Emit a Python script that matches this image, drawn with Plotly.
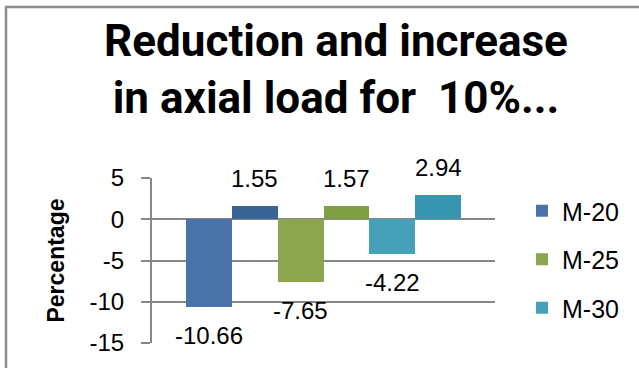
import plotly.graph_objects as go

# Percentage change in axial load per concrete grade
grades = ["M-20", "M-25", "M-30"]
reduction = [-10.66, -7.65, -4.22]
increase = [1.55, 1.57, 2.94]
tick_vals = [5, 0, -5, -10, -15]
tick_text = ["5", "0", "-5", "-10", "-15"]

# lighter shade for the reduction bar, darker for the increase bar
neg_colors = ["#4A74A9", "#8BA64E", "#46A0B8"]
pos_colors = ["#3A6496", "#7F9F42", "#3896B1"]

W, H = 639, 368
ML, MR, MT, MB = 152, 144, 178, 25
PW, PH = W - ML - MR, H - MT - MB

FONT = "Liberation Sans, Arial, sans-serif"
TITLE_FONT = "Roboto, Liberation Sans, sans-serif"
GRID = "#878787"

fig = go.Figure()
annotations = []
for i, name in enumerate(grades):
    xs = [2 * i, 2 * i + 1]
    ys = [reduction[i], increase[i]]
    fig.add_trace(go.Bar(
        x=xs, y=ys, name=name, width=1,
        marker=dict(color=[neg_colors[i], pos_colors[i]], line=dict(width=0)),
        legendgroup=name,
    ))
    for x, v in zip(xs, ys):
        annotations.append(dict(
            x=x, y=v, xref="x", yref="y", text=f"{v:.2f}", showarrow=False,
            yanchor="middle", yshift=28 if v > 0 else -28,
            font=dict(family=FONT, size=24, color="#000000"),
        ))


def px_x(px):
    return (px - ML) / PW


def px_y(py):
    return (H - MB - py) / PH


# outer chart frame: top and left edges
frame = dict(color="#8C8C8C", width=2.5)
shapes = [
    dict(type="line", xref="paper", yref="paper", layer="above",
         x0=px_x(5), x1=px_x(639), y0=px_y(7), y1=px_y(7), line=frame),
    dict(type="line", xref="paper", yref="paper", layer="above",
         x0=px_x(6), x1=px_x(6), y0=px_y(6), y1=px_y(368), line=frame),
]

fig.update_layout(
    width=W, height=H,
    margin=dict(l=ML, r=MR, t=MT, b=MB, autoexpand=False),
    paper_bgcolor="white", plot_bgcolor="white",
    barmode="overlay", bargap=0,
    modebar=dict(bgcolor="rgba(0,0,0,0)"),
    title=dict(
        text="<b>Reduction and increase<br>in axial load for  10%...</b>",
        x=336 / W, xanchor="center", xref="container",
        y=1 - 56 / H, yanchor="middle", yref="container",
        font=dict(family=TITLE_FONT, size=44, color="#000000"),
    ),
    xaxis=dict(range=[-1.23, 6.23], showticklabels=False, showgrid=False,
               zeroline=False, showline=False, ticks=""),
    yaxis=dict(range=[-15, 5], tickvals=tick_vals, ticktext=tick_text,
               showgrid=True, gridcolor=GRID, gridwidth=2,
               zeroline=False, showline=True, linecolor=GRID, linewidth=2,
               ticks="outside", ticklen=9, tickcolor=GRID, tickwidth=2,
               ticklabelstandoff=12,
               tickfont=dict(family=FONT, size=24, color="#000000"),
               title=dict(text="<b>Percentage</b>", standoff=18,
                          font=dict(family=FONT, size=23, color="#000000"))),
    legend=dict(x=px_x(522), xanchor="left", y=px_y(188), yanchor="top",
                font=dict(family=FONT, size=25, color="#000000"),
                tracegroupgap=13, bgcolor="rgba(0,0,0,0)"),
    annotations=annotations,
    shapes=shapes,
)

fig.write_html("out.html", config={"displayModeBar": False})
